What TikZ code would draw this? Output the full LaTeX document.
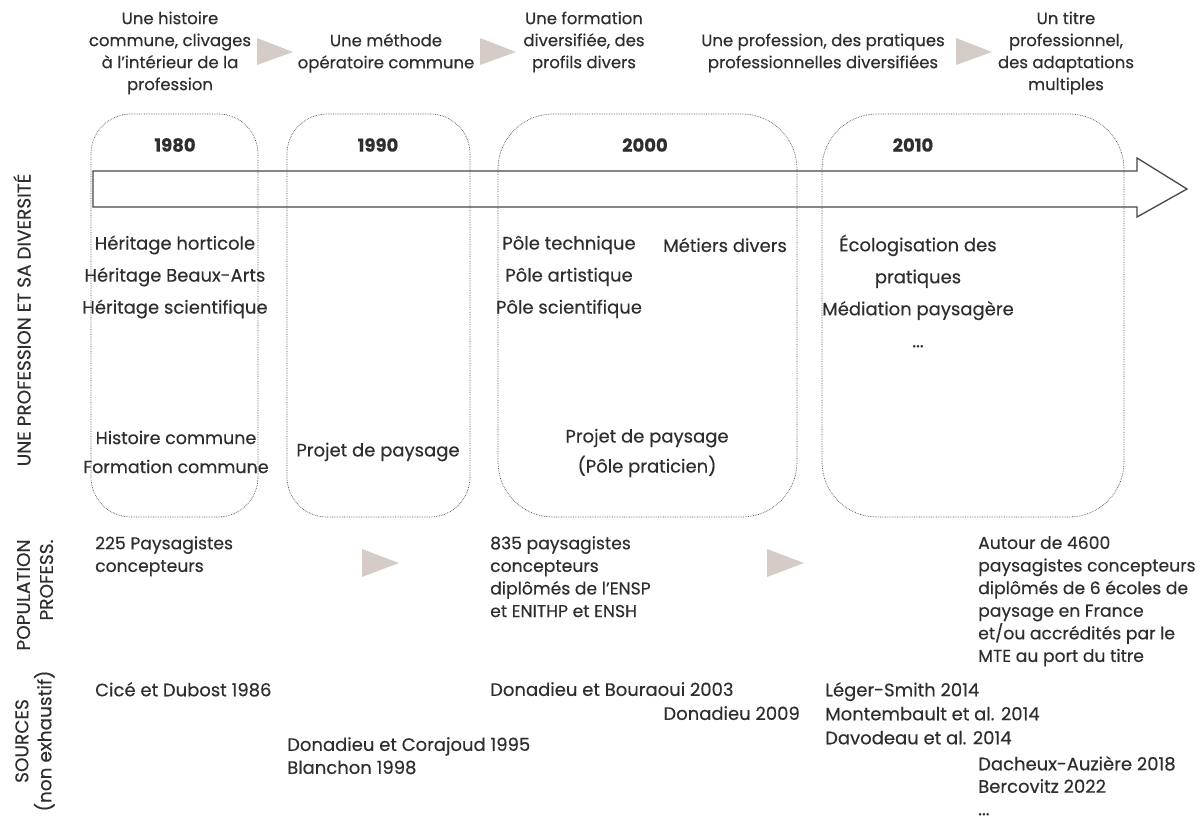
\documentclass[tikz,border=0pt]{standalone}
\usepackage{fontspec}
\setmainfont{Poppins}[FakeBold=0.35]
\begin{document}
\begin{tikzpicture}[x=1pt,y=-1pt,
  txt/.style={inner sep=0pt, text=black!82, font=\fontsize{17.5}{22}\selectfont, align=center},
  hdr/.style={txt, font=\fontsize{16.5}{22}\selectfont},
  yr/.style={txt, font=\fontsize{18}{18}\selectfont\bfseries},
  boxtxt/.style={txt, font=\fontsize{18}{32}\selectfont},
  lft/.style={txt, align=left, anchor=north west, font=\fontsize{18}{23}\selectfont},
  pop/.style={lft, font=\fontsize{17.2}{22.6}\selectfont},
  side/.style={txt, rotate=90, font=\fontsize{18.5}{23}\selectfont},
  period/.style={draw=black!70, densely dotted, line width=0.7pt},
  tri/.style={fill=tricol, draw=none},
]
\definecolor{tricol}{HTML}{D5CCC7}
\useasboundingbox (0,0) rectangle (1203,821);

% dotted period boxes
\draw[period, rounded corners=40pt] (91,114) rectangle (258,517);
\draw[period, rounded corners=40pt] (287,114) rectangle (470,517);
\draw[period, rounded corners=55pt] (498,114) rectangle (797,517);
\draw[period, rounded corners=55pt] (822,114) rectangle (1124,517);

% big timeline arrow
\draw[line width=1.3pt, draw=black!72, line join=miter]
  (93,171) -- (1137,171) -- (1137,158) -- (1187,189) -- (1137,217) -- (1137,207) -- (93,207) -- cycle;

% headers
\node[hdr] (h1) at (170,53) {Une histoire\\commune, clivages\\à l’intérieur de la\\profession};
\node[hdr] (h2) at (386,53) {Une méthode\\opératoire commune};
\node[hdr] (h3) at (584,42) {Une formation\\diversifiée, des\\profils divers};
\node[hdr] (h4) at (823,53) {Une profession, des pratiques\\professionnelles diversifiées};
\node[hdr] (h5) at (1066,53) {Un titre\\professionnel,\\des adaptations\\multiples};

% gray triangles
\fill[tri] (257,38) -- (293,52) -- (257,65) -- cycle;
\fill[tri] (480,38) -- (516,52) -- (480,65) -- cycle;
\fill[tri] (956,38) -- (992,52) -- (956,65) -- cycle;
\fill[tri] (362,549) -- (399,563) -- (362,577) -- cycle;
\fill[tri] (767,549) -- (804,563) -- (767,577) -- cycle;

% years
\node[yr] (y1) at (175,145) {1980};
\node[yr] (y2) at (378,145) {1990};
\node[yr] (y3) at (645,145) {2000};
\node[yr] (y4) at (913,145) {2010};

% box contents
\node[boxtxt] (b1a) at (175,277) {Héritage horticole\\Héritage Beaux-Arts\\Héritage scientifique};
\node[boxtxt, font=\fontsize{17.5}{29}\selectfont] (b1b) at (176,452) {Histoire commune\\Formation commune};
\node[boxtxt] (b2) at (378,452) {Projet de paysage};
\node[boxtxt] (b3a) at (569,277) {Pôle technique\\Pôle artistique\\Pôle scientifique};
\node[boxtxt] (b3b) at (725,245) {Métiers divers};
\node[boxtxt, font=\fontsize{18}{30}\selectfont] (b3c) at (647,453) {Projet de paysage\\(Pôle praticien)};
\node[boxtxt] (b4) at (918,291) {Écologisation des\\pratiques\\Médiation paysagère\\...};

% population
\node[pop] (p1) at (95,536) {225 Paysagistes\\concepteurs};
\node[pop] (p2) at (490,536) {835 paysagistes\\concepteurs\\diplômés de l’ENSP\\et ENITHP et ENSH};
\node[pop] (p3) at (978,536) {Autour de 4600\\paysagistes concepteurs\\diplômés de 6 écoles de\\paysage en France\\et/ou accrédités par le\\MTE au port du titre};

% sources
\node[lft] (s1) at (95,682) {Cicé et Dubost 1986};
\node[lft] (s2) at (287,737) {Donadieu et Corajoud 1995\\Blanchon 1998};
\node[lft] (s3) at (490,682) {Donadieu et Bouraoui 2003};
\node[lft, anchor=north east] (s4) at (800,706) {Donadieu 2009};
\node[lft, font=\fontsize{18}{24}\selectfont] (s5) at (825,682) {Léger-Smith 2014\\Montembault et al. 2014\\Davodeau et al. 2014};
\node[lft, font=\fontsize{18}{22.5}\selectfont] (s6) at (978,756) {Dacheux-Auzière 2018\\Bercovitz 2022\\...};

% side labels
\node[side] (l1) at (22,320) {UNE PROFESSION ET SA DIVERSITÉ};
\node[side, align=right] (l2) at (35,595) {POPULATION\\PROFESS.};
\node[side] (l3) at (35,741) {SOURCES\\(non exhaustif)};
\end{tikzpicture}
\end{document}
